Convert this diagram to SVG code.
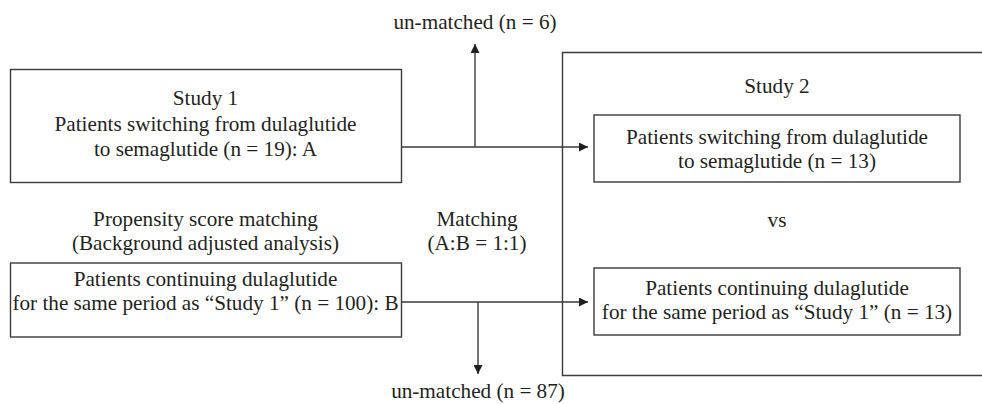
<svg xmlns="http://www.w3.org/2000/svg" width="982" height="404" viewBox="0 0 982 404">
<style>
  .box { fill: none; stroke: #3a3a3a; stroke-width: 1.4; }
  .line { fill: none; stroke: #3a3a3a; stroke-width: 1.4; }
  text { font-family: "Liberation Serif", "Times New Roman", serif; font-size: 21.2px; fill: #231f20; text-anchor: middle; }
</style>
<defs>
  <marker id="arr" viewBox="0 0 10 10" refX="10" refY="5" markerWidth="9" markerHeight="9" markerUnits="userSpaceOnUse" orient="auto">
    <path d="M0,0 L10,5 L0,10 Z" fill="#231f20"/>
  </marker>
</defs>

<g id="study2-frame">
  <path class="box" d="M 990 52.5 H 562.5 V 375.5 H 990"/>
  <text x="777" y="93">Study 2</text>
  <text x="777" y="227">vs</text>
</g>

<g id="nodeA">
  <rect class="box" x="10.5" y="69.5" width="391" height="113"/>
  <text x="205.5" y="105">Study 1</text>
  <text x="205.5" y="131">Patients switching from dulaglutide</text>
  <text x="205.5" y="156">to semaglutide (n = 19): A</text>
</g>

<g id="psm-label">
  <text x="205.5" y="226">Propensity score matching</text>
  <text x="205.5" y="250">(Background adjusted analysis)</text>
</g>

<g id="matching-label">
  <text x="477" y="226">Matching</text>
  <text x="477" y="250">(A:B = 1:1)</text>
</g>

<g id="nodeB">
  <rect class="box" x="10.5" y="263" width="391" height="74"/>
  <text x="205.5" y="286">Patients continuing dulaglutide</text>
  <text x="205.5" y="310">for the same period as “Study 1” (n = 100): B</text>
</g>

<g id="nodeA2">
  <rect class="box" x="594" y="115" width="366" height="67"/>
  <text x="777" y="144">Patients switching from dulaglutide</text>
  <text x="777" y="168">to semaglutide (n = 13)</text>
</g>

<g id="nodeB2">
  <rect class="box" x="594" y="268" width="366" height="67"/>
  <text x="777" y="295">Patients continuing dulaglutide</text>
  <text x="777" y="319">for the same period as “Study 1” (n = 13)</text>
</g>

<g id="unmatched-top">
  <text x="475" y="29">un-matched (n = 6)</text>
</g>
<g id="unmatched-bottom">
  <text x="478" y="398">un-matched (n = 87)</text>
</g>

<g id="connectors">
  <line class="line" x1="401.5" y1="147" x2="588" y2="147" marker-end="url(#arr)"/>
  <line class="line" x1="475" y1="147" x2="475" y2="44" marker-end="url(#arr)"/>
  <line class="line" x1="401.5" y1="302" x2="588" y2="302" marker-end="url(#arr)"/>
  <line class="line" x1="478" y1="302" x2="478" y2="374" marker-end="url(#arr)"/>
</g>
</svg>
